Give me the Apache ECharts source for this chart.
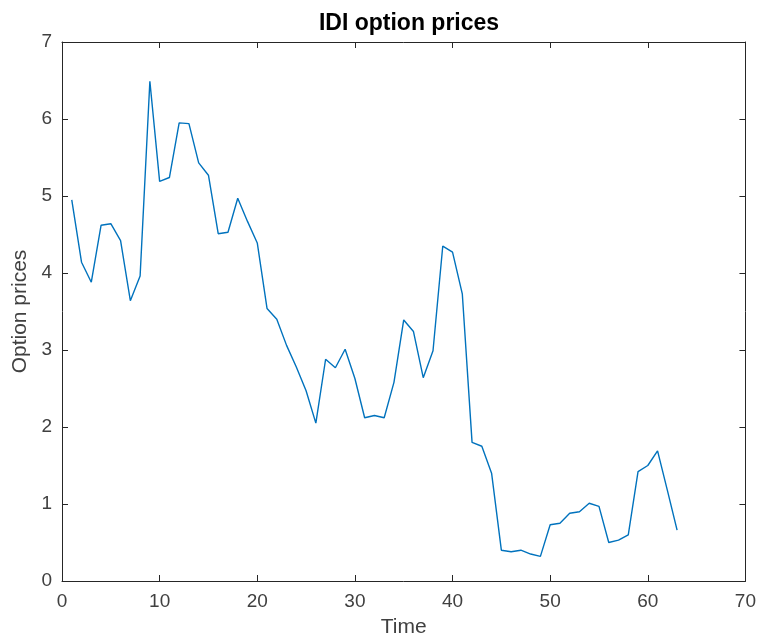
<!DOCTYPE html>
<html>
<head>
<meta charset="utf-8">
<script src="https://cdn.jsdelivr.net/npm/echarts@6/dist/echarts.min.js"></script>
<style>
  html, body { margin: 0; padding: 0; background: #fff; }
  #chart { width: 759px; height: 643px; }
</style>
</head>
<body>
<div id="chart"></div>
<script>
// time steps and option prices
const timeSteps = [
  1, 2, 3, 4, 5, 6, 7, 8, 9, 10,
  11, 12, 13, 14, 15, 16, 17, 18, 19, 20,
  21, 22, 23, 24, 25, 26, 27, 28, 29, 30,
  31, 32, 33, 34, 35, 36, 37, 38, 39, 40,
  41, 42, 43, 44, 45, 46, 47, 48, 49, 50,
  51, 52, 53, 54, 55, 56, 57, 58, 59, 60,
  61, 62, 63
]
const optionPrices = [
  4.95, 4.14, 3.88, 4.62, 4.64, 4.42, 3.64, 3.96, 6.49, 5.19,
  5.24, 5.95, 5.94, 5.43, 5.27, 4.51, 4.53, 4.97, 4.67, 4.39,
  3.54, 3.40, 3.06, 2.78, 2.47, 2.05, 2.88, 2.77, 3.01, 2.63,
  2.12, 2.15, 2.12, 2.58, 3.39, 3.24, 2.64, 2.99, 4.35, 4.27,
  3.73, 1.80, 1.75, 1.40, 0.40, 0.38, 0.40, 0.35, 0.32, 0.73,
  0.75, 0.88, 0.90, 1.01, 0.97, 0.50, 0.53, 0.60, 1.42, 1.50,
  1.69, 1.18, 0.66
]
const xTicks = [0, 10, 20, 30, 40, 50, 60, 70]
const yTicks = [0, 1, 2, 3, 4, 5, 6, 7]

const axisColor = '#262626'
const labelColor = '#404040'
const font = 'Liberation Sans, Arial, Helvetica, sans-serif'

const chart = echarts.init(document.getElementById('chart'), null, { renderer: 'canvas' })

// shared look of the box edges (matlab style, ticks pointing inward)
const axisLine = { show: true, onZero: false, lineStyle: { color: axisColor, width: 1 } }
const axisTick = { show: true, inside: true, length: 6, lineStyle: { color: axisColor } }

chart.setOption({
  animation: false,
  title: {
    text: 'IDI option prices',
    left: 404,
    textAlign: 'center',
    top: 7,
    textStyle: { fontFamily: font, fontSize: 23, fontWeight: 'bold', color: '#000' }
  },
  grid: { left: 62, right: 12, top: 42, bottom: 60 },
  xAxis: [{
    type: 'value',
    min: xTicks[0],
    max: xTicks[xTicks.length - 1],
    interval: 10,
    name: 'Time',
    nameLocation: 'middle',
    nameGap: 36,
    nameTextStyle: { fontFamily: font, fontSize: 21, color: labelColor },
    axisLine,
    axisTick,
    splitLine: { show: false },
    axisLabel: { fontFamily: font, fontSize: 19, color: labelColor, margin: 11 }
  }, {
    type: 'value',
    position: 'top',
    min: xTicks[0],
    max: xTicks[xTicks.length - 1],
    interval: 10,
    axisLine,
    axisTick,
    splitLine: { show: false },
    axisLabel: { show: false }
  }],
  yAxis: [{
    type: 'value',
    min: yTicks[0],
    max: yTicks[yTicks.length - 1],
    interval: 1,
    name: 'Option prices',
    nameLocation: 'middle',
    nameGap: 31,
    nameTextStyle: { fontFamily: font, fontSize: 21, color: labelColor },
    axisLine,
    axisTick,
    splitLine: { show: false },
    axisLabel: { fontFamily: font, fontSize: 19, color: labelColor, margin: 10 }
  }, {
    type: 'value',
    position: 'right',
    min: yTicks[0],
    max: yTicks[yTicks.length - 1],
    interval: 1,
    axisLine,
    axisTick,
    splitLine: { show: false },
    axisLabel: { show: false }
  }],
  series: [{
    name: 'IDI',
    type: 'line',
    data: timeSteps.map((t, i) => [t, optionPrices[i]]),
    showSymbol: false,
    lineStyle: { color: '#0072BD', width: 1.4 }
  }]
})
</script>
</body>
</html>
